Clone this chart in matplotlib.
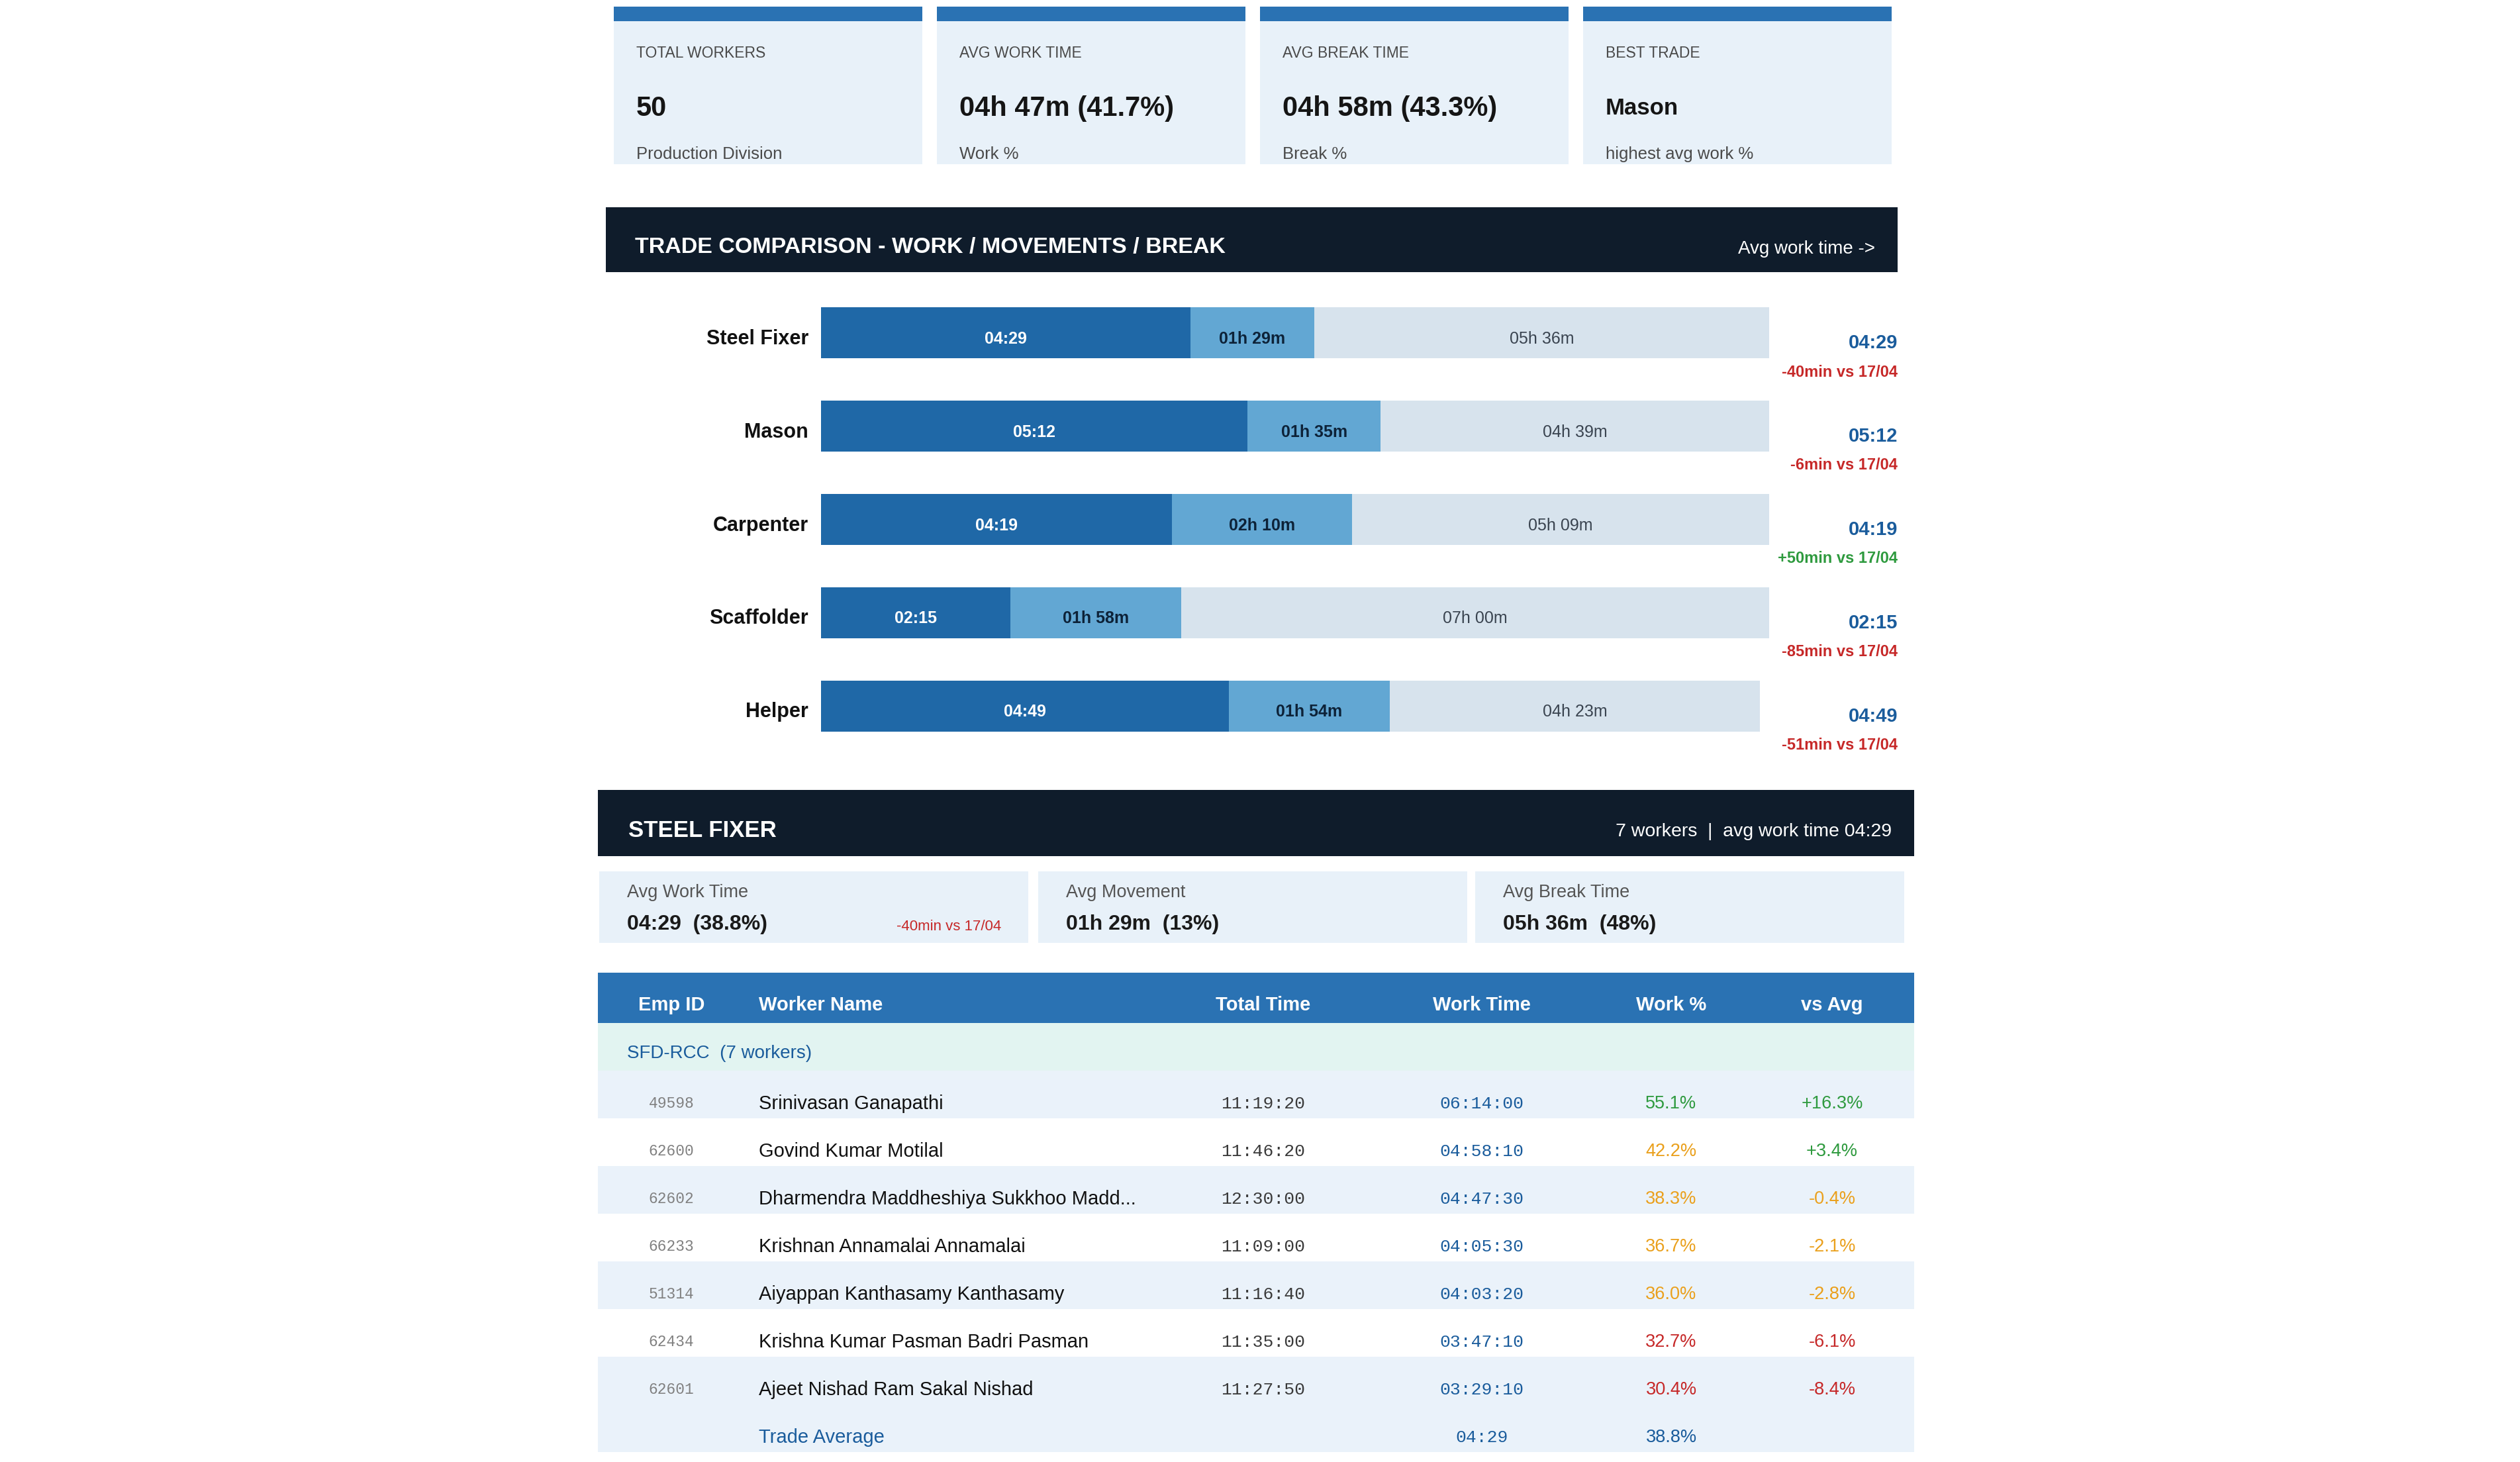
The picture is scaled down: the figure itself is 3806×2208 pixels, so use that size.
import matplotlib.pyplot as plt
from matplotlib.patches import Rectangle

plt.rcParams['font.family'] = ['Liberation Sans', 'DejaVu Sans']
MONO = ['Liberation Mono', 'DejaVu Sans Mono']

# --- colours ---
C_BLUE = "#2a72b3"
C_CARD = "#e8f1f9"
C_DARK = "#0f1c2b"
C_WORK = "#1f68a7"
C_MOVE = "#62a7d3"
C_BREAK = "#d7e3ed"
C_TXTBLUE = "#1a5c9c"
C_RED = "#c62828"
C_GREEN = "#2e9a3e"
C_ORANGE = "#eaa01c"
C_ROW = "#eaf2fa"
C_GROUP = "#e2f4f1"

# --- KPI cards ---
kpi_titles = ["TOTAL WORKERS", "AVG WORK TIME", "AVG BREAK TIME", "BEST TRADE"]
kpi_values = ["50", "04h 47m (41.7%)", "04h 58m (43.3%)", "Mason"]
kpi_subs = ["Production Division", "Work %", "Break %", "highest avg work %"]

# --- trade comparison (share of total day, %) ---
trades = ["Steel Fixer", "Mason", "Carpenter", "Scaffolder", "Helper"]
work_pct = [39, 45, 37, 20, 43]
move_pct = [13, 14, 19, 18, 17]
break_pct = [48, 41, 44, 62, 39]
work_lbl = ["04:29", "05:12", "04:19", "02:15", "04:49"]
move_lbl = ["01h 29m", "01h 35m", "02h 10m", "01h 58m", "01h 54m"]
break_lbl = ["05h 36m", "04h 39m", "05h 09m", "07h 00m", "04h 23m"]
vs_min = [-40, -6, 50, -85, -51]
ref_date = "17/04"

# --- selected trade ---
sel_trade = "STEEL FIXER"
sel_workers = 7
sub_titles = ["Avg Work Time", "Avg Movement", "Avg Break Time"]
sub_values = ["04:29  (38.8%)", "01h 29m  (13%)", "05h 36m  (48%)"]

# --- worker table ---
table_cols = ["Emp ID", "Worker Name", "Total Time", "Work Time", "Work %", "vs Avg"]
group_label = "SFD-RCC"
emp_ids = ["49598", "62600", "62602", "66233", "51314", "62434", "62601"]
names = ["Srinivasan Ganapathi", "Govind Kumar Motilal",
         "Dharmendra Maddheshiya Sukkhoo Madd...", "Krishnan Annamalai Annamalai",
         "Aiyappan Kanthasamy Kanthasamy", "Krishna Kumar Pasman Badri Pasman",
         "Ajeet Nishad Ram Sakal Nishad"]
total_times = ["11:19:20", "11:46:20", "12:30:00", "11:09:00", "11:16:40", "11:35:00", "11:27:50"]
work_times = ["06:14:00", "04:58:10", "04:47:30", "04:05:30", "04:03:20", "03:47:10", "03:29:10"]
work_pcts = [55.1, 42.2, 38.3, 36.7, 36.0, 32.7, 30.4]
vs_avg = [16.3, 3.4, -0.4, -2.1, -2.8, -6.1, -8.4]
avg_time = "04:29"
avg_pct = 38.8

W, H = 3806, 2208
fig = plt.figure(figsize=(W / 100, H / 100), dpi=100, facecolor='white')
ax = fig.add_axes([0, 0, 1, 1])
ax.set_xlim(0, W)
ax.set_ylim(H, 0)
ax.axis('off')


def box(x, y, w, h, color, z=1):
    ax.add_patch(Rectangle((x, y), w, h, facecolor=color, edgecolor='none', zorder=z))


def txt(x, y, s, size, **kw):
    # y is the visual centre of the glyphs; nudge down for the descender space
    ax.text(x, y + 0.1 * size * 100 / 72, s, fontsize=size, va='center', **kw)


# KPI cards
card_x = [927, 1415, 1903, 2391]
for i, x in enumerate(card_x):
    box(x, 10, 466, 22, C_BLUE)
    box(x, 32, 466, 216, C_CARD)
    txt(x + 34, 78, kpi_titles[i], 16.5, color="#4a4a4a")
    txt(x + 34, 160, kpi_values[i], 25 if i == 3 else 30, fontweight='bold', color="#151515")
    txt(x + 34, 230, kpi_subs[i], 18.5, color="#4a4a4a")

# trade comparison header
box(915, 313, 1951, 98, C_DARK)
txt(959, 370, "TRADE COMPARISON - WORK / MOVEMENTS / BREAK", 24.5,
    fontweight='bold', color='white')
txt(2832, 373, "Avg work time ->", 20, color='white', ha='right')

# stacked bars
bx0, bx1 = 1240, 2672
bx = fig.add_axes([bx0 / W, 1 - 1136.5 / H, (bx1 - bx0) / W, (1136.5 - 432.5) / H])
bx.set_xlim(0, 100)
bx.set_ylim(len(trades) - 0.5, -0.5)
ypos = list(range(len(trades)))
left2 = [w + m for w, m in zip(work_pct, move_pct)]
bx.barh(ypos, work_pct, height=0.546, color=C_WORK)
bx.barh(ypos, move_pct, left=work_pct, height=0.546, color=C_MOVE)
bx.barh(ypos, break_pct, left=left2, height=0.546, color=C_BREAK)
xr = (2866 - bx0) / (bx1 - bx0)
xl = -19 / (bx1 - bx0)
yt = bx.get_yaxis_transform()
dy = 0.065
for i in ypos:
    bx.text(work_pct[i] / 2, i + dy, work_lbl[i], color='white', fontsize=18,
            fontweight='bold', ha='center', va='center')
    bx.text(work_pct[i] + move_pct[i] / 2, i + dy, move_lbl[i], color="#0d2238",
            fontsize=18, fontweight='bold', ha='center', va='center')
    bx.text(left2[i] + break_pct[i] / 2, i + dy, break_lbl[i], color="#3a4450",
            fontsize=18, ha='center', va='center')
    bx.text(xl, i + dy, trades[i], transform=yt, color="#111111", fontsize=22,
            fontweight='bold', ha='right', va='center')
    bx.text(xr, i + 0.11, work_lbl[i], transform=yt,
            color=C_TXTBLUE, fontsize=21, fontweight='bold', ha='right', va='center')
    vc = C_GREEN if vs_min[i] > 0 else C_RED
    bx.text(xr, i + 0.42, f"{vs_min[i]:+d}min vs {ref_date}", transform=yt,
            color=vc, fontsize=17, fontweight='bold', ha='right', va='center')
bx.set_yticks([])
bx.set_xticks([])
for s in bx.spines.values():
    s.set_visible(False)
bx.patch.set_alpha(0)

# selected trade header
box(903, 1193, 1988, 100, C_DARK)
txt(949, 1251, sel_trade, 25, fontweight='bold', color='white')
txt(2857, 1253, f"{sel_workers} workers  |  avg work time {avg_time}", 20.5,
    color='white', ha='right')

# sub cards
sub_x = [905, 1568, 2228]
for i, x in enumerate(sub_x):
    box(x, 1316, 648, 108, C_CARD)
    txt(x + 42, 1345, sub_titles[i], 19.5, color="#555555")
    txt(x + 42, 1393, sub_values[i], 23, fontweight='bold', color="#1a1a1a")
txt(sub_x[0] + 607, 1397, f"{vs_min[0]:+d}min vs {ref_date}", 16, color=C_RED, ha='right')

# table
tx0, tx1 = 903, 2891
col_x = [1014, 1146, 1908, 2238, 2524, 2767]
col_ha = ['center', 'left', 'center', 'center', 'center', 'center']
box(tx0, 1469, tx1 - tx0, 76, C_BLUE)
for c, lab in enumerate(table_cols):
    txt(col_x[c], 1515, lab, 21, fontweight='bold', color='white', ha=col_ha[c])
box(tx0, 1545, tx1 - tx0, 72, C_GROUP)
txt(947, 1588, f"{group_label}  ({len(emp_ids)} workers)", 20, color=C_TXTBLUE)

row_h = 72
for r in range(len(emp_ids)):
    top = 1617 + r * row_h
    if r % 2 == 0:
        box(tx0, top, tx1 - tx0, row_h, C_ROW)
    ty = top + row_h / 2 + 11
    pc = C_GREEN if work_pcts[r] >= 45 else (C_ORANGE if work_pcts[r] >= 35 else C_RED)
    vc = C_GREEN if vs_avg[r] > 0 else (C_ORANGE if vs_avg[r] > -5 else C_RED)
    txt(col_x[0], ty, emp_ids[r], 16.5, family=MONO, color="#808080", ha='center')
    txt(col_x[1], ty, names[r], 21, color="#111111")
    txt(col_x[2], ty, total_times[r], 19, family=MONO, color="#3a3a3a", ha='center')
    txt(col_x[3], ty, work_times[r], 19, family=MONO, color=C_TXTBLUE, ha='center')
    txt(col_x[4], ty, f"{work_pcts[r]:.1f}%", 19.5, color=pc, ha='center')
    txt(col_x[5], ty, f"{vs_avg[r]:+.1f}%", 19.5, color=vc, ha='center')

top = 1617 + len(emp_ids) * row_h
box(tx0, top, tx1 - tx0, row_h, C_ROW)
ty = top + row_h / 2 + 11
txt(col_x[1], ty, "Trade Average", 21, color=C_TXTBLUE)
txt(col_x[3], ty, avg_time, 19, family=MONO, color=C_TXTBLUE, ha='center')
txt(col_x[4], ty, f"{avg_pct:.1f}%", 19.5, color=C_TXTBLUE, ha='center')

fig.savefig("out.png", dpi=100, facecolor='white')
